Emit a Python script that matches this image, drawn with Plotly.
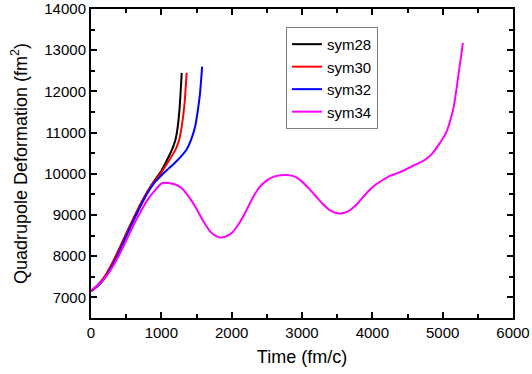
import plotly.graph_objects as go

# Data
t28 = [0, 100, 200, 300, 400, 500, 600, 700, 800, 900, 1000, 1100, 1150, 1200, 1230, 1260, 1290]
y28 = [7150, 7300, 7520, 7820, 8170, 8540, 8900, 9250, 9560, 9830, 10070, 10400, 10580, 10820, 11100, 11600, 12450]

t30 = [0, 100, 200, 300, 400, 500, 600, 700, 800, 900, 1000, 1100, 1200, 1250, 1290, 1330, 1360]
y30 = [7150, 7300, 7520, 7820, 8170, 8540, 8900, 9250, 9560, 9820, 10030, 10300, 10580, 10800, 11150, 11700, 12450]

t32 = [0, 100, 200, 300, 400, 500, 600, 700, 800, 900, 1000, 1100, 1200, 1300, 1360, 1420, 1480, 1520, 1550, 1580]
y32 = [7150, 7280, 7480, 7760, 8100, 8480, 8850, 9200, 9520, 9780, 9960, 10120, 10280, 10460, 10590, 10810, 11140, 11550, 11950, 12600]

t34 = [0, 100, 200, 300, 400, 500, 600, 700, 800, 900, 1000, 1050, 1100, 1200, 1300, 1400, 1500,
       1600, 1700, 1800, 1850, 1900, 2000, 2100, 2200, 2300, 2400, 2500, 2600, 2700, 2780, 2900,
       3000, 3100, 3200, 3300, 3400, 3500, 3550, 3650, 3750, 3850, 3950, 4050, 4150, 4250, 4350,
       4450, 4550, 4650, 4750, 4850, 4950, 5050, 5110, 5160, 5200, 5240, 5270, 5287]
y34 = [7150, 7300, 7480, 7720, 8030, 8380, 8740, 9060, 9360, 9580, 9760, 9780, 9775, 9740, 9640, 9420, 9150,
       8840, 8590, 8470, 8455, 8470, 8560, 8780, 9080, 9420, 9680, 9840, 9930, 9965, 9970, 9930,
       9810, 9640, 9450, 9260, 9110, 9040, 9035, 9080, 9210, 9400, 9590, 9740, 9850, 9950, 10010,
       10080, 10170, 10250, 10340, 10490, 10720, 11000, 11300, 11650, 12100, 12600, 12950, 13180]

series = [
    ("sym28", t28, y28, "#000000"),
    ("sym30", t30, y30, "#ff0000"),
    ("sym32", t32, y32, "#0000ff"),
    ("sym34", t34, y34, "#ff00ff"),
]

fig = go.Figure()
for name, t, y, c in series:
    fig.add_trace(go.Scatter(x=t, y=y, mode="lines", name=name,
                             line=dict(color=c, width=2, shape="spline", smoothing=0.5)))

font = "Liberation Sans, Arial, sans-serif"
axis_common = dict(
    showline=True, linecolor="black", linewidth=2, mirror="allticks",
    ticks="inside", ticklen=6, tickwidth=2, tickcolor="black",
    showgrid=False, zeroline=False, tickformat="d",
    tickfont=dict(family=font, size=15, color="black"),
)
minor = dict(dtick=500, ticks="inside", ticklen=4, tickwidth=2, tickcolor="black")

fig.update_layout(
    width=532, height=374,
    margin=dict(l=91, r=19, t=9, b=56, autoexpand=False),
    paper_bgcolor="white", plot_bgcolor="white",
    font=dict(family=font, color="black"),
    xaxis=dict(range=[0, 6000], dtick=1000, tick0=0, minor=minor,
               title=dict(text="Time (fm/c)", font=dict(family=font, size=18), standoff=10),
               **axis_common),
    yaxis=dict(range=[6500, 14000], dtick=1000, tick0=0, minor=minor,
               title=dict(text="Quadrupole Deformation (fm<sup>2</sup>)", font=dict(family=font, size=18), standoff=12),
               **axis_common),
    legend=dict(x=0.462, y=0.777, xanchor="left", yanchor="middle",
                bordercolor="#808080", borderwidth=1, bgcolor="white",
                font=dict(family=font, size=15, color="black"),
                tracegroupgap=0),
    showlegend=True,
)

# remove the default 8px page margin so the figure fills the window exactly
fig.write_html("out.html", config={"displayModeBar": False},
               post_script="document.body.style.margin='0px';")
